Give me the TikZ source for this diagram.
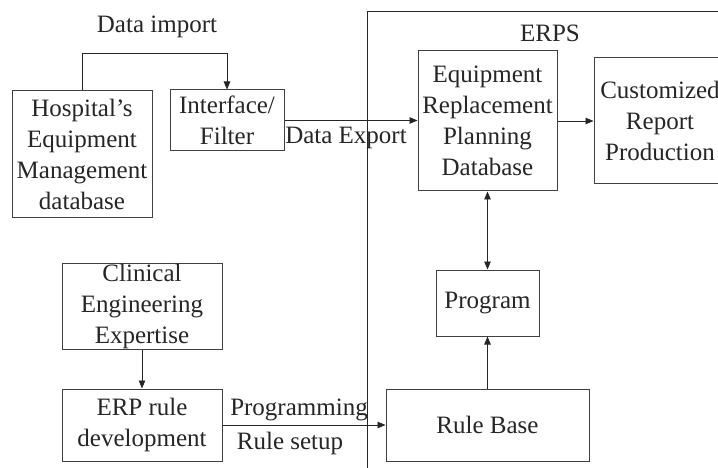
\documentclass[tikz,border=0pt]{standalone}
\usepackage{fontspec}
\setmainfont{Liberation Serif}
\usetikzlibrary{arrows.meta,calc}
\begin{document}
\begin{tikzpicture}[x=1pt,y=-1pt,
  box/.style={draw=black!75,line width=1pt,inner sep=0pt,align=center,text=black!85,
    font=\fontsize{25}{31}\selectfont},
  lbl/.style={inner sep=0pt,text=black!85,font=\fontsize{25}{31}\selectfont},
  arr/.style={line width=0.9pt,draw=black!85,-{Triangle[length=8pt,width=6.5pt]}},
  darr/.style={line width=0.9pt,draw=black!85,{Triangle[length=8pt,width=6.5pt]}-{Triangle[length=8pt,width=6.5pt]}}]
\useasboundingbox (0,0) rectangle (718,468);
\clip (0,0) rectangle (718,468);
\fill[white] (0,0) rectangle (718,468);
% ERPS boundary
\draw[line width=1pt,black!85] (367,468) -- (367,12) -- (718,12);
\node[lbl] (erps) at (550,33) {ERPS};
% nodes
\node[box,minimum width=140pt,minimum height=126pt] (hosp) at (82,154) {Hospital’s\\Equipment\\Management\\database};
\node[box,minimum width=114pt,minimum height=61pt] (iface) at (227,120.5) {Interface/\\Filter};
\node[box,minimum width=139pt,minimum height=140pt] (db) at (487.5,121) {Equipment\\Replacement\\Planning\\Database};
\node[box,minimum width=132pt,minimum height=126pt] (cust) at (660,121) {Customized\\Report\\Production};
\node[box,minimum width=103pt,minimum height=66pt] (prog) at (487.5,303) {Program};
\node[box,minimum width=203pt,minimum height=72pt] (rule) at (487.5,425) {Rule Base};
\node[box,minimum width=160pt,minimum height=86pt] (clin) at (142,306) {Clinical\\Engineering\\Expertise};
\node[box,minimum width=160pt,minimum height=72pt] (erp) at (142,425) {ERP rule\\development};
% labels
\node[lbl] (limp) at (157,27) {Data import};
\node[lbl] (lexp) at (346,138) {Data Export};
\node[lbl] (lprg) at (299,410) {Programming};
\node[lbl] (lrs) at (290,443) {Rule setup};
% connectors
\draw[arr] (hosp.north) -- ++(0,-37) -| (iface.north);
\draw[arr] (iface.east) -- (iface.east -| db.west);
\draw[arr] (db.east) -- (cust.west);
\draw[darr] (db.south) -- (prog.north);
\draw[arr] (rule.north) -- (prog.south);
\draw[arr] (clin.south) -- (erp.north);
\draw[arr] (erp.east) -- (rule.west);
\end{tikzpicture}
\end{document}
